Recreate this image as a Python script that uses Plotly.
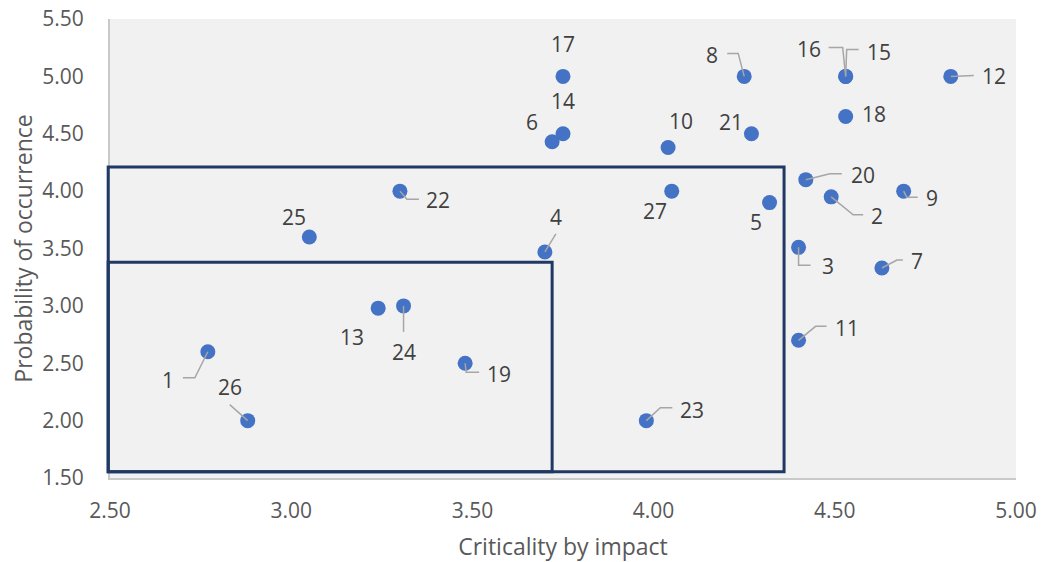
import plotly.graph_objects as go

# Risk register: criticality by impact (x) vs probability of occurrence (y)
risk_ids = ["1", "2", "3", "4", "5", "6", "7", "8", "9", "10", "11", "12", "13", "14",
            "15", "16", "17", "18", "19", "20", "21", "22", "23", "24", "25", "26", "27"]
impact = [2.77, 4.49, 4.40, 3.70, 4.32, 3.72, 4.63, 4.25, 4.69, 4.04, 4.40, 4.82, 3.24, 3.75,
          4.53, 4.53, 3.75, 4.53, 3.48, 4.42, 4.27, 3.30, 3.98, 3.31, 3.05, 2.88, 4.05]
probability = [2.60, 3.95, 3.51, 3.47, 3.90, 4.43, 3.33, 5.00, 4.00, 4.38, 2.70, 5.00, 2.98, 4.50,
               5.00, 5.00, 5.00, 4.65, 2.50, 4.10, 4.50, 4.00, 2.00, 3.00, 3.60, 2.00, 4.00]

# Zone thresholds (outer and inner boxes start at the axis origin)
outer_zone = {"impact": 4.36, "probability": 4.21}
inner_zone = {"impact": 3.72, "probability": 3.38}
zone_floor = 1.555
zone_left = 2.495

X_RANGE = [2.5, 5.0]
Y_RANGE = [1.5, 5.5]
x_ticks = [2.5, 3.0, 3.5, 4.0, 4.5, 5.0]
y_ticks = [1.5, 2.0, 2.5, 3.0, 3.5, 4.0, 4.5, 5.0, 5.5]

# Label placement in screen pixels (dx right, dy down) relative to each point,
# plus optional leader-line vertices.
label_layout = {
    "1":  ((-40, 28), [(-13, 26), (-25, 26)]),
    "2":  ((46, 19), [(22, 18), (32, 18)]),
    "3":  ((29, 19), [(0, 18), (12, 18)]),
    "4":  ((11, -35), [(11, -18)]),
    "5":  ((-14, 19), []),
    "6":  ((-20, -20), []),
    "7":  ((35, -7), [(15, -8), (21, -8)]),
    "8":  ((-32, -21), [(-6, -23), (-17, -23)]),
    "9":  ((28, 7), [(3, 6), (14, 6)]),
    "10": ((13, -27), []),
    "11": ((48, -12), [(17, -14), (28, -14)]),
    "12": ((43, 0), [(23, -1)]),
    "13": ((-26, 29), []),
    "14": ((0, -33), []),
    "15": ((33, -24), [(1, -27), (13, -27)]),
    "16": ((-37, -27), [(-3, -29), (-17, -29)]),
    "17": ((0, -32), []),
    "18": ((28, -3), []),
    "19": ((34, 11), [(1, 9), (14, 9)]),
    "20": ((57, -5), [(24, -6), (36, -6)]),
    "21": ((-20, -12), []),
    "22": ((38, 9), [(7, 8), (19, 8)]),
    "23": ((46, -11), [(14, -13), (26, -13)]),
    "24": ((0, 46), [(0, 26)]),
    "25": ((-15, -20), []),
    "26": ((-18, -34), [(-18, -16)]),
    "27": ((-17, 20), []),
}

FONT = "Open Sans, Arial, sans-serif"
DOT = "#4472C4"
ZONE = "#1F3864"
LEADER = "#A6A6A6"
TEXT = "#404040"


def to_domain(v, rng):
    return (v - rng[0]) / (rng[1] - rng[0])


fig = go.Figure()
fig.add_trace(go.Scatter(
    x=impact, y=probability, mode="markers",
    marker=dict(color=DOT, size=15),
    cliponaxis=False, hoverinfo="text", text=risk_ids,
))

shapes = []
# Zone boxes
for zone in (outer_zone, inner_zone):
    shapes.append(dict(
        type="rect", xref="x domain", yref="y domain",
        x0=to_domain(zone_left, X_RANGE), x1=to_domain(zone["impact"], X_RANGE),
        y0=to_domain(zone_floor, Y_RANGE), y1=to_domain(zone["probability"], Y_RANGE),
        line=dict(color=ZONE, width=3), fillcolor="rgba(0,0,0,0)", layer="above",
    ))

annotations = []
for rid, xv, yv in zip(risk_ids, impact, probability):
    (ldx, ldy), leader = label_layout[rid]
    if leader:
        path = "M0,0 " + " ".join(f"L{dx},{-dy}" for dx, dy in leader)
        shapes.append(dict(
            type="path", xref="x", yref="y",
            xsizemode="pixel", ysizemode="pixel",
            xanchor=xv, yanchor=yv, path=path,
            line=dict(color=LEADER, width=1.5), layer="above",
        ))
    annotations.append(dict(
        x=xv, y=yv, xref="x", yref="y", text=rid, showarrow=False,
        xshift=ldx, yshift=-ldy, font=dict(family=FONT, size=21, color=TEXT),
    ))

axis_common = dict(
    showgrid=False, zeroline=False, showline=True, linecolor="#C9C9C9", linewidth=2,
    tickformat=".2f", ticks="", automargin=False,
    tickfont=dict(family=FONT, size=21, color="#595959"),
    title_font=dict(family=FONT, size=23, color="#595959"),
)

fig.update_xaxes(range=X_RANGE, tickvals=x_ticks, title_text="Criticality by impact",
                 ticklabelstandoff=13, title_standoff=21, **axis_common)
fig.update_yaxes(range=Y_RANGE, tickvals=y_ticks, title_text="Probability of occurrence",
                 ticklabelstandoff=20, title_standoff=3, **axis_common)

fig.update_layout(
    width=1041, height=562,
    margin=dict(l=110, r=25, t=19, b=84),
    plot_bgcolor="#F1F1F1", paper_bgcolor="white",
    showlegend=False, shapes=shapes, annotations=annotations,
    font=dict(family=FONT),
)

fig.write_html("out.html")
